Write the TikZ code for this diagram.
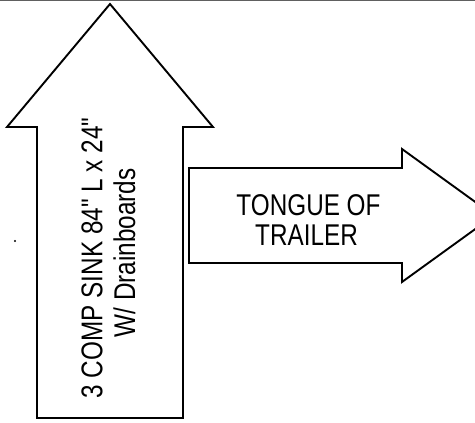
\documentclass[tikz,border=0pt]{standalone}
\usepackage{fontspec}
\newfontfamily\labelfont{Liberation Sans}[FakeStretch=0.81]
\tikzset{
  outline/.style={draw=black, line width=1.9pt, line join=miter, fill=white},
  lbl/.style={font=\labelfont\fontsize{30}{32}\selectfont, inner sep=0pt, anchor=base},
}
\begin{document}
\begin{tikzpicture}[x=1pt,y=-1pt]
  \useasboundingbox (0,0) rectangle (475,423);
  % thin rule along the top edge
  \draw[gray!75!black, line width=1.3pt] (0,0.8) -- (475,0.8);
  % upward block arrow (sink)
  \draw[outline] (110,4) -- (213,127) -- (183,127) -- (183,418)
        -- (37,418) -- (37,127) -- (7,127) -- cycle;
  % rightward block arrow (tongue of trailer), tip runs off the edge
  \begin{scope}
    \clip (0,0) rectangle (475,423);
    \draw[outline] (189,168) -- (402,168) -- (402,149) -- (494,215.5)
          -- (402,282) -- (402,263) -- (189,263) -- cycle;
  \end{scope}
  % labels
  \node[lbl, rotate=90] (sink1) at (102.5,258) {3 COMP SINK 84" L x 24"};
  \node[lbl, rotate=90] (sink2) at (135,253) {W/ Drainboards};
  \node[lbl] (tongue1) at (308.5,215) {TONGUE OF};
  \node[lbl] (tongue2) at (306.5,245) {TRAILER};
  % small speck left of the sink
  \fill (15,241) circle (1.1pt);
\end{tikzpicture}
\end{document}
